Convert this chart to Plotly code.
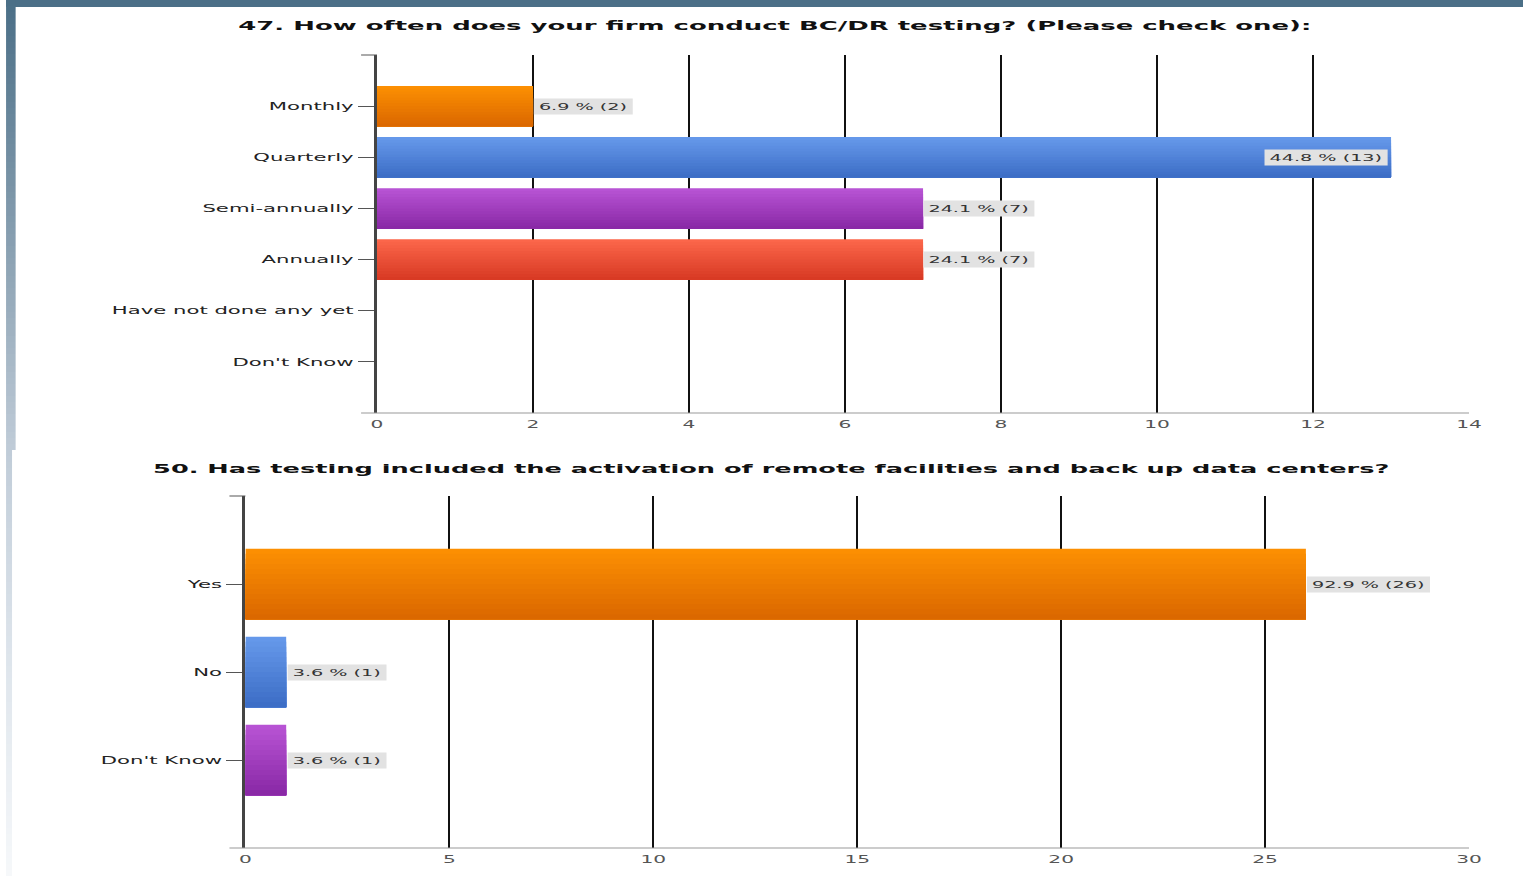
import plotly.graph_objects as go

# ---- Survey results ------------------------------------------------------
title_47 = "47. How often does your firm conduct BC/DR testing? (Please check one):"
freq_labels = ["Monthly", "Quarterly", "Semi-annually", "Annually",
               "Have not done any yet", "Don't Know"]
freq_counts = [2, 13, 7, 7, 0, 0]
freq_pcts = [6.9, 44.8, 24.1, 24.1, 0.0, 0.0]
freq_ticks = [0, 2, 4, 6, 8, 10, 12, 14]

title_50 = "50. Has testing included the activation of remote facilities and back up data centers?"
remote_labels = ["Yes", "No", "Don't Know"]
remote_counts = [26, 1, 1]
remote_pcts = [92.9, 3.6, 3.6]
remote_ticks = [0, 5, 10, 15, 20, 25, 30]

# ---- Styling ----------------------------------------------------------------
W, H = 762, 876            # drawing size before the horizontal stretch
STRETCH = 1538 / W
FONT = "DejaVu Sans"

# (top, bottom) colours of the gradient bars
ORANGE = ("#fc8f02", "#db6800")
BLUE = ("#6598ea", "#3d6ec6")
PURPLE = ("#b753d4", "#8a29a6")
RED = ("#fb664a", "#d83a24")
freq_colors = [ORANGE, BLUE, PURPLE, RED, ORANGE, BLUE]
remote_colors = [ORANGE, BLUE, PURPLE]

N_SLICES = 14


def hex_rgb(h):
    h = h.lstrip("#")
    return tuple(int(h[i:i + 2], 16) for i in (0, 2, 4))


def mix(c0, c1, t):
    a, b = hex_rgb(c0), hex_rgb(c1)
    return "rgb(%d,%d,%d)" % tuple(round(a[k] + (b[k] - a[k]) * t) for k in range(3))


def gradient_bars(fig, labels, counts, colors, bar_w, xa, ya):
    """Horizontal bars shaded from a light top edge to a darker bottom edge."""
    step = bar_w / N_SLICES
    for i in range(N_SLICES):
        t = i / (N_SLICES - 1)
        fig.add_trace(go.Bar(
            x=counts, y=labels, orientation="h",
            offset=-bar_w / 2 + i * step,
            width=bar_w - i * step,
            marker=dict(color=[mix(c[0], c[1], t) for c in colors], line_width=0),
            hoverinfo="skip", showlegend=False,
            xaxis=xa, yaxis=ya,
        ))


def value_labels(fig, labels, counts, pcts, xmax, plot_px, xa, ya):
    span = 64 / plot_px * xmax          # data width taken by one label box
    for lab, n, p in zip(labels, counts, pcts):
        if n == 0:
            continue
        inside = n + span > xmax
        fig.add_annotation(
            x=n, y=lab, xref=xa, yref=ya,
            text=f"{p:.1f} % ({n})",
            showarrow=False,
            xanchor="right" if inside else "left",
            xshift=-1 if inside else 0,
            bgcolor="#e2e2e2", borderpad=2,
            font=dict(family=FONT, size=9.5, color="#333333"),
        )


fig = go.Figure()

# ---- Chart 47 ---------------------------------------------------------------
x1_dom = [186 / W, 733.5 / W]
y1_dom = [1 - 413 / H, 1 - 55 / H]
gradient_bars(fig, freq_labels, freq_counts, freq_colors, 0.79, "x", "y")
value_labels(fig, freq_labels, freq_counts, freq_pcts, 14,
             (x1_dom[1] - x1_dom[0]) * W, "x", "y")

# ---- Chart 50 ---------------------------------------------------------------
x2_dom = [120 / W, 733.5 / W]
y2_dom = [1 - 848 / H, 1 - 496 / H]
gradient_bars(fig, remote_labels, remote_counts, remote_colors, 0.8, "x2", "y2")
value_labels(fig, remote_labels, remote_counts, remote_pcts, 30,
             (x2_dom[1] - x2_dom[0]) * W, "x2", "y2")

xaxis_style = dict(
    showgrid=True, gridcolor="#111111", gridwidth=1,
    zeroline=False, showline=False, ticks="", ticklabelstandoff=4,
    tickfont=dict(family=FONT, size=10, color="#555555"),
    fixedrange=True,
)
yaxis_style = dict(
    type="category", showgrid=False, zeroline=False,
    showline=True, linecolor="#444444", linewidth=1.5,
    ticks="outside", ticklen=8, tickwidth=1, tickcolor="#555555",
    tickfont=dict(family=FONT, size=10.5, color="#222222"),
    fixedrange=True,
)

fig.update_layout(
    width=W, height=H,
    margin=dict(l=0, r=0, t=0, b=0),
    paper_bgcolor="white", plot_bgcolor="rgba(0,0,0,0)",
    barmode="overlay", showlegend=False,
    font=dict(family=FONT),
    xaxis=dict(domain=x1_dom, anchor="y", range=[0, 14], tickvals=freq_ticks, **xaxis_style),
    yaxis=dict(domain=y1_dom, anchor="x", range=[6, -1],
               categoryorder="array", categoryarray=freq_labels, **yaxis_style),
    xaxis2=dict(domain=x2_dom, anchor="y2", range=[0, 30], tickvals=remote_ticks, **xaxis_style),
    yaxis2=dict(domain=y2_dom, anchor="x2", range=[3, -1],
                categoryorder="array", categoryarray=remote_labels, **yaxis_style),
)

# Titles
for txt, xc, yc, size in ((title_47, 385.2, 26, 12.85), (title_50, 383.5, 469, 12.7)):
    fig.add_annotation(
        text=f"<b>{txt}</b>", xref="paper", yref="paper",
        x=xc / W, y=1 - yc / H, xanchor="center", yanchor="middle",
        showarrow=False, font=dict(family=FONT, size=size, color="#111111"),
    )

# Axis ends: bottom base line reaching past the axis, and the top end tick
for xa, ya, ext in (("x", "y", 8 / ((x1_dom[1] - x1_dom[0]) * W)),
                    ("x2", "y2", 8 / ((x2_dom[1] - x2_dom[0]) * W))):
    fig.add_shape(type="line", xref=f"{xa} domain", yref=f"{ya} domain",
                  x0=-ext, x1=1, y0=0, y1=0, line=dict(color="#9a9a9a", width=1.2),
                  layer="above")
    fig.add_shape(type="line", xref=f"{xa} domain", yref=f"{ya} domain",
                  x0=-ext, x1=0, y0=1, y1=1, line=dict(color="#555555", width=1),
                  layer="above")

# ---- Slide frame: dark top band and a fading left edge ----------------------
fig.add_shape(type="rect", xref="paper", yref="paper", x0=0, x1=1,
              y0=1 - 7 / H, y1=1, fillcolor="#4b6f87", line_width=0, layer="below")

edge_stops = [(0, "#4a6e86"), (300, "#97abbb"), (450, "#c0ccd8"),
              (650, "#dde4eb"), (876, "#f6f8fa")]


def edge_color(y):
    for (y0, c0), (y1, c1) in zip(edge_stops, edge_stops[1:]):
        if y0 <= y <= y1:
            return mix(c0, c1, (y - y0) / (y1 - y0))
    return edge_stops[-1][1]


STEP = 6
for y in range(0, H, STEP):
    w = 4.8 if y < 450 else 3
    fig.add_shape(type="rect", xref="paper", yref="paper",
                  x0=0, x1=w / W, y0=1 - (y + STEP) / H, y1=1 - y / H,
                  fillcolor=edge_color(y + STEP / 2), line_width=0, layer="below")

stretch_js = """
var gd = document.getElementById('{plot_id}');
document.documentElement.style.margin = '0';
document.body.style.margin = '0';
document.body.style.overflow = 'hidden';
gd.style.transformOrigin = '0 0';
gd.style.transform = 'scaleX(%f)';
""" % STRETCH

fig.write_html("out.html", config={"displayModeBar": False, "staticPlot": True},
               post_script=stretch_js)
